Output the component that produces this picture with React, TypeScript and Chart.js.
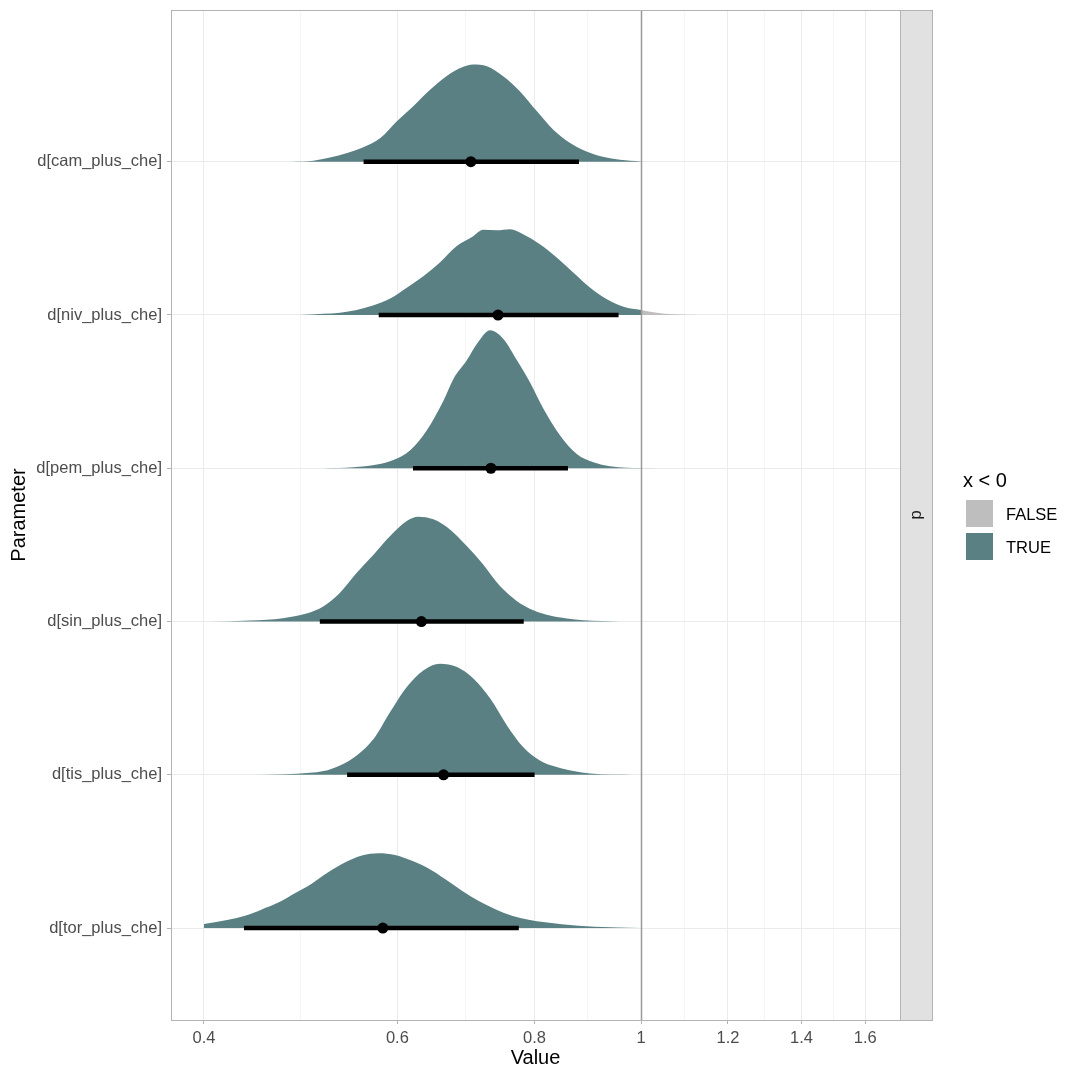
import React, { useEffect, useRef } from "react";
import { Chart, registerables } from "chart.js";

Chart.register(...registerables);

// ---------- data ----------
const categories = [
  "d[cam_plus_che]",
  "d[niv_plus_che]",
  "d[pem_plus_che]",
  "d[sin_plus_che]",
  "d[tis_plus_che]",
  "d[tor_plus_che]",
];
const categoryY = [6, 5, 4, 3, 2, 1];

// density outlines (x value, height in category-slot units)
const camX = [0.481, 0.503, 0.521, 0.54, 0.558, 0.579, 0.599, 0.62, 0.643, 0.665, 0.689, 0.703, 0.724, 0.749, 0.776, 0.804, 0.832, 0.862, 0.892, 0.923, 0.957, 1.0];
const camDensity = [0, 0.007, 0.028, 0.057, 0.093, 0.155, 0.263, 0.361, 0.471, 0.558, 0.619, 0.634, 0.623, 0.558, 0.459, 0.329, 0.209, 0.122, 0.067, 0.033, 0.013, 0.002];
const camFalseX = [1.0, 1.025];
const camFalseDensity = [0.002, 0];

const nivX = [0.489, 0.514, 0.532, 0.551, 0.571, 0.591, 0.612, 0.634, 0.656, 0.68, 0.704, 0.718, 0.739, 0.76, 0.781, 0.809, 0.838, 0.868, 0.899, 0.931, 0.964, 1.0];
const nivDensity = [0, 0.008, 0.015, 0.033, 0.063, 0.107, 0.178, 0.255, 0.342, 0.451, 0.516, 0.556, 0.553, 0.56, 0.527, 0.462, 0.375, 0.276, 0.178, 0.103, 0.054, 0.033];
const nivFalseX = [1.0, 1.033, 1.07, 1.132];
const nivFalseDensity = [0.033, 0.015, 0.005, 0];

const pemX = [0.514, 0.547, 0.575, 0.595, 0.616, 0.638, 0.661, 0.675, 0.694, 0.709, 0.729, 0.749, 0.771, 0.792, 0.815, 0.844, 0.874, 0.905, 0.937, 0.97, 1.0];
const pemDensity = [0, 0.007, 0.024, 0.054, 0.116, 0.246, 0.442, 0.584, 0.704, 0.812, 0.9, 0.845, 0.704, 0.562, 0.388, 0.214, 0.093, 0.039, 0.013, 0.003, 0.001];
const pemFalseX = [1.0, 1.036];
const pemFalseDensity = [0.001, 0];

const sinX = [0.405, 0.441, 0.472, 0.496, 0.514, 0.532, 0.551, 0.571, 0.591, 0.612, 0.627, 0.647, 0.67, 0.694, 0.718, 0.744, 0.771, 0.798, 0.826, 0.856, 0.886, 0.957];
const sinDensity = [0, 0.007, 0.022, 0.052, 0.1, 0.188, 0.318, 0.438, 0.558, 0.656, 0.684, 0.667, 0.601, 0.492, 0.373, 0.231, 0.133, 0.074, 0.039, 0.02, 0.008, 0];

const tisX = [0.437, 0.486, 0.514, 0.532, 0.551, 0.571, 0.591, 0.612, 0.634, 0.656, 0.68, 0.704, 0.729, 0.755, 0.781, 0.809, 0.838, 0.868, 0.899, 0.984];
const tisDensity = [0, 0.007, 0.024, 0.061, 0.126, 0.235, 0.41, 0.573, 0.682, 0.725, 0.704, 0.627, 0.497, 0.322, 0.181, 0.093, 0.05, 0.024, 0.008, 0];

const torX = [0.4, 0.421, 0.436, 0.451, 0.468, 0.484, 0.501, 0.519, 0.538, 0.557, 0.577, 0.597, 0.618, 0.64, 0.663, 0.687, 0.711, 0.736, 0.763, 0.79, 0.818, 0.847, 0.877, 0.908, 1.0];
const torDensity = [0.026, 0.054, 0.08, 0.12, 0.168, 0.227, 0.288, 0.364, 0.429, 0.473, 0.488, 0.477, 0.44, 0.39, 0.32, 0.244, 0.178, 0.124, 0.08, 0.054, 0.037, 0.024, 0.015, 0.008, 0.001];
const torFalseX = [1.0, 1.008];
const torFalseDensity = [0.001, 0];

const medians = [0.7, 0.741, 0.73, 0.631, 0.661, 0.582];
const lowerBounds = [0.559, 0.577, 0.62, 0.51, 0.54, 0.435];
const upperBounds = [0.878, 0.954, 0.858, 0.782, 0.8, 0.774];

const xMajorTicks = [0.4, 0.6, 0.8, 1, 1.2, 1.4, 1.6];
const xTickLabels = ["0.4", "0.6", "0.8", "1", "1.2", "1.4", "1.6"];
const referenceLine = 1;

const legendTitle = "x < 0";
const legendLabels = ["FALSE", "TRUE"];
const stripLabel = "p";
const xTitle = "Value";
const yTitle = "Parameter";

// ---------- styles ----------
const TEAL = "#5B8083";
const GREY = "#BEBEBE";
const FONT = "'Liberation Sans', Arial, sans-serif";

export default function App() {
  const ref = useRef<HTMLCanvasElement | null>(null);

  useEffect(() => {
    if (!ref.current) return;

    const densSets = [
      { x: camX, d: camDensity, y: 6, c: TEAL },
      { x: camFalseX, d: camFalseDensity, y: 6, c: GREY },
      { x: nivX, d: nivDensity, y: 5, c: TEAL },
      { x: nivFalseX, d: nivFalseDensity, y: 5, c: GREY },
      { x: pemX, d: pemDensity, y: 4, c: TEAL },
      { x: pemFalseX, d: pemFalseDensity, y: 4, c: GREY },
      { x: sinX, d: sinDensity, y: 3, c: TEAL },
      { x: tisX, d: tisDensity, y: 2, c: TEAL },
      { x: torX, d: torDensity, y: 1, c: TEAL },
      { x: torFalseX, d: torFalseDensity, y: 1, c: GREY },
    ];

    const minorTicks: number[] = [];
    for (let i = 0; i < xMajorTicks.length - 1; i++) {
      minorTicks.push(Math.sqrt(xMajorTicks[i] * xMajorTicks[i + 1]));
    }
    const isMajor = (v: number) => xMajorTicks.some((m) => Math.abs(m - v) < 1e-9);

    const datasets: any[] = [];
    // medians (drawn on top: first dataset)
    datasets.push({
      type: "scatter",
      data: categoryY.map((y, i) => ({ x: medians[i], y })),
      pointRadius: 5.5,
      pointBackgroundColor: "#000000",
      pointBorderWidth: 0,
      showLine: false,
    });
    // intervals
    categoryY.forEach((y, i) => {
      datasets.push({
        type: "line",
        data: [
          { x: lowerBounds[i], y },
          { x: upperBounds[i], y },
        ],
        borderColor: "#000000",
        borderWidth: 4.5,
        borderCapStyle: "butt",
        pointRadius: 0,
        fill: false,
      });
    });
    // densities
    densSets.forEach((s) => {
      datasets.push({
        type: "line",
        data: s.x.map((xv, i) => ({ x: xv, y: s.y + s.d[i] })),
        borderWidth: 0,
        borderColor: s.c,
        backgroundColor: s.c,
        pointRadius: 0,
        cubicInterpolationMode: "monotone",
        fill: { value: s.y },
      });
    });

    const decor = {
      id: "decor",
      afterDatasetsDraw(chart: any) {
        const ctx = chart.ctx;
        const a = chart.chartArea;
        const xs = chart.scales.x;
        const px = Math.round(xs.getPixelForValue(referenceLine)) + 0.5;
        ctx.save();
        ctx.strokeStyle = "#999999";
        ctx.lineWidth = 1.5;
        ctx.beginPath();
        ctx.moveTo(px, a.top);
        ctx.lineTo(px, a.bottom);
        ctx.stroke();
        ctx.restore();
      },
      afterDraw(chart: any) {
        const ctx = chart.ctx;
        const a = chart.chartArea;
        ctx.save();
        // panel border
        ctx.strokeStyle = "#B3B3B3";
        ctx.lineWidth = 1;
        ctx.strokeRect(Math.round(a.left) + 0.5, Math.round(a.top) + 0.5, Math.round(a.right - a.left), Math.round(a.bottom - a.top));
        // strip
        const sx = Math.round(a.right) + 0.5;
        ctx.fillStyle = "#E1E1E1";
        ctx.fillRect(sx, Math.round(a.top) + 0.5, 32, Math.round(a.bottom - a.top));
        ctx.strokeStyle = "#B3B3B3";
        ctx.strokeRect(sx, Math.round(a.top) + 0.5, 32, Math.round(a.bottom - a.top));
        ctx.fillStyle = "#1A1A1A";
        ctx.font = `16.5px ${FONT}`;
        ctx.textAlign = "center";
        ctx.textBaseline = "middle";
        ctx.translate(sx + 16, (a.top + a.bottom) / 2);
        ctx.rotate(-Math.PI / 2);
        ctx.fillText(stripLabel, 0, 0);
        ctx.restore();

        ctx.save();
        // axis titles
        ctx.fillStyle = "#000000";
        ctx.font = `20px ${FONT}`;
        ctx.textAlign = "center";
        ctx.textBaseline = "middle";
        ctx.fillText(xTitle, (a.left + a.right) / 2, 1058);
        ctx.save();
        ctx.translate(19, (a.top + a.bottom) / 2);
        ctx.rotate(-Math.PI / 2);
        ctx.fillText(yTitle, 0, 0);
        ctx.restore();

        // legend
        ctx.textAlign = "left";
        ctx.textBaseline = "alphabetic";
        ctx.font = `20px ${FONT}`;
        ctx.fillText(legendTitle, 963, 487);
        const keyColors = [GREY, TEAL];
        legendLabels.forEach((lab, i) => {
          const ky = 500 + i * 33;
          ctx.fillStyle = keyColors[i];
          ctx.fillRect(966, ky, 27, 27);
          ctx.fillStyle = "#000000";
          ctx.font = `16.5px ${FONT}`;
          ctx.fillText(lab, 1006, ky + 20);
        });
        ctx.restore();
      },
    };

    const chart = new Chart(ref.current, {
      type: "line",
      data: { datasets },
      plugins: [decor],
      options: {
        animation: false,
        responsive: false,
        maintainAspectRatio: false,
        devicePixelRatio: 1,
        layout: { autoPadding: false, padding: { top: 10, right: 180, bottom: 0, left: 0 } },
        plugins: { legend: { display: false }, tooltip: { enabled: false } },
        scales: {
          x: {
            type: "logarithmic",
            min: 0.3733,
            max: 1.7211,
            afterBuildTicks: (scale: any) => {
              scale.ticks = [...xMajorTicks, ...minorTicks]
                .sort((p, q) => p - q)
                .map((v) => ({ value: v }));
            },
            afterFit: (scale: any) => {
              scale.height = 60;
              scale.paddingLeft = 0;
              scale.paddingRight = 0;
            },
            ticks: {
              autoSkip: false,
              maxRotation: 0,
              minRotation: 0,
              padding: 5,
              color: "#4D4D4D",
              font: { family: FONT, size: 16.5 },
              callback: (value: any) => {
                const idx = xMajorTicks.findIndex((m) => Math.abs(m - Number(value)) < 1e-9);
                return idx >= 0 ? xTickLabels[idx] : "";
              },
            },
            grid: {
              drawTicks: true,
              tickLength: 4,
              lineWidth: 1,
              color: (c: any) => (c.tick && isMajor(c.tick.value) ? "#EBEBEB" : "#F5F5F5"),
              tickColor: (c: any) => (c.tick && isMajor(c.tick.value) ? "#B3B3B3" : "rgba(0,0,0,0)"),
            },
            border: { display: false },
          },
          y: {
            type: "linear",
            min: 0.4,
            max: 6.99,
            afterBuildTicks: (scale: any) => {
              scale.ticks = [...categoryY].sort((p, q) => p - q).map((v) => ({ value: v }));
            },
            afterFit: (scale: any) => {
              scale.width = 171;
              scale.paddingTop = 0;
              scale.paddingBottom = 0;
            },
            ticks: {
              autoSkip: false,
              padding: 5,
              color: "#4D4D4D",
              font: { family: FONT, size: 16.5 },
              callback: (value: any) => {
                const idx = categoryY.indexOf(Number(value));
                return idx >= 0 ? categories[idx] : "";
              },
            },
            grid: {
              drawTicks: true,
              tickLength: 4,
              lineWidth: 1,
              color: "#EBEBEB",
              tickColor: "#B3B3B3",
            },
            border: { display: false },
          },
        },
      } as any,
    });

    return () => chart.destroy();
  }, []);

  return (
    <div style={{ position: "absolute", left: 0, top: 0, width: 1080, height: 1080, background: "#ffffff" }}>
      <canvas ref={ref} width={1080} height={1080} style={{ display: "block", width: 1080, height: 1080 }} />
    </div>
  );
}
